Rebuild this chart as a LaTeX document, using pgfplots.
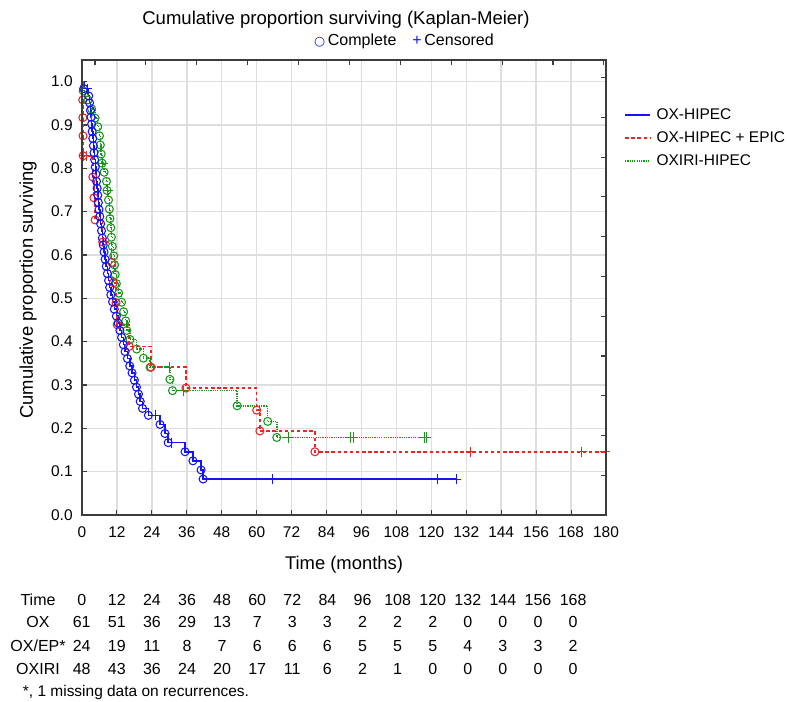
\documentclass[border=0pt]{standalone}
\usepackage{fontspec}
\setmainfont{Liberation Sans}
\newfontfamily\dejavu{DejaVu Sans}
\usepackage{pgfplots}
\pgfplotsset{compat=1.18}
\usepackage{pgfplotstable}

\definecolor{kmblue}{RGB}{20,20,245}
\definecolor{kmred}{RGB}{240,35,35}
\definecolor{kmgreen}{RGB}{25,150,25}
\definecolor{gridgray}{RGB}{222,222,222}
\definecolor{framegray}{RGB}{60,60,60}

% KM curves: t = months, S = proportion, m = s(tart) / e(vent) / c(ensored)
\pgfplotstableread{
t S m
0 1 s
0.6 0.984 e
1.8 0.984 c
2.3 0.967 e
2.6 0.951 e
2.9 0.934 e
3.1 0.918 e
3.3 0.902 e
3.49 0.885 e
3.70 0.869 e
3.92 0.852 e
4.13 0.836 e
4.34 0.820 e
4.56 0.803 e
4.77 0.787 e
4.98 0.770 e
5.20 0.754 e
5.41 0.738 e
5.62 0.721 e
5.84 0.705 e
6.11 0.689 e
6.40 0.672 e
6.70 0.656 e
6.99 0.639 e
7.29 0.623 e
7.58 0.607 e
7.94 0.590 e
8.33 0.574 e
8.72 0.557 e
9.12 0.541 e
9.51 0.525 e
9.90 0.508 e
10.5 0.492 e
11.1 0.475 e
11.8 0.459 e
12.4 0.443 e
13.0 0.426 e
13.6 0.410 e
14.2 0.393 e
14.8 0.377 e
15.6 0.361 e
16.4 0.344 e
17.2 0.328 e
18.0 0.311 e
18.7 0.295 e
19.4 0.279 e
20.0 0.262 e
20.8 0.246 e
22.8 0.230 e
25.4 0.230 c
26.8 0.209 e
28.5 0.188 e
29.6 0.167 e
30.9 0.167 c
35.4 0.146 e
38.1 0.125 e
40.9 0.104 e
41.6 0.083 e
65.3 0.083 c
122.0 0.083 c
128.5 0.083 c
}\oxdata

\pgfplotstableread{
t S m
0 1 s
0.25 0.958 e
0.30 0.917 e
0.35 0.875 e
0.40 0.829 e
0.6 0.829 c
1.6 0.829 c
3.7 0.780 e
4.1 0.732 e
4.5 0.681 e
7.1 0.630 e
10.2 0.583 e
10.8 0.536 e
11.7 0.490 e
12.1 0.439 e
16.2 0.389 e
23.7 0.341 e
35.7 0.293 e
60.0 0.242 e
61.1 0.194 e
80.0 0.146 e
133.6 0.146 c
171.7 0.146 c
179.8 0.146 c
}\epdata

\pgfplotstableread{
t S m
0 1 s
0.4 0.979 e
2.0 0.958 e
3.3 0.937 e
4.5 0.916 e
5.4 0.896 e
6.0 0.875 e
6.3 0.854 e
6.6 0.833 e
6.9 0.812 e
7.1 0.812 c
7.6 0.791 e
8.4 0.770 e
8.6 0.749 e
8.8 0.749 c
9.1 0.727 e
9.4 0.706 e
9.6 0.684 e
9.9 0.663 e
10.1 0.641 e
10.4 0.620 e
10.9 0.598 e
11.2 0.577 e
11.4 0.555 e
11.8 0.534 e
12.6 0.512 e
13.6 0.491 e
14.3 0.469 e
15.0 0.448 e
15.4 0.426 e
16.5 0.405 e
18.8 0.383 e
21.1 0.362 e
23.4 0.341 e
30.0 0.341 c
30.2 0.313 e
31.1 0.287 e
34.8 0.287 c
53.3 0.252 e
63.8 0.216 e
66.9 0.179 e
70.9 0.179 c
92.3 0.179 c
93.2 0.179 c
117.6 0.179 c
118.2 0.179 c
}\oxiridata

\pgfplotsset{
  km marks/.style={forget plot, only marks, scatter, scatter src=explicit symbolic,
    restrict x to domain=0.01:200, mark size=3pt,
    mark options={solid, line width=0.8pt},
    scatter/classes={e={mark=o, #1}, c={mark=+, mark size=3.8pt, #1}, s={mark=o, #1}}},
  km line/.style={forget plot, const plot, no marks, line width=1.15pt, #1},
}

\begin{document}
\begin{tikzpicture}
\path[use as bounding box] (0,0) rectangle (591pt,525.75pt);

\begin{axis}[
  at={(61.5pt,139.5pt)}, anchor=south west,
  scale only axis, width=393pt, height=341.25pt,
  xmin=0, xmax=180, ymin=0, ymax=1.05,
  xtick={0,12,...,180}, ytick={0,0.1,...,1.0},
  xtick pos=left, ytick pos=left, tick align=inside,
  major tick length=4pt,
  grid=major, grid style={gridgray, line width=1.1pt},
  axis line style={framegray, line width=1pt},
  tick style={framegray, line width=0.8pt},
  ticklabel style={font=\fontsize{11.6}{13}\selectfont},
  x tick label style={yshift=-5.5pt},
  /pgf/number format/assume math mode=true,
  xlabel={Time (months)}, ylabel={Cumulative proportion surviving},
  label style={font=\fontsize{13.8}{16}\selectfont},
  xlabel style={at={(axis description cs:0.5,-0.11)}, anchor=center},
  ylabel style={at={(axis description cs:-0.103,0.495)}, anchor=center},
  legend style={at={(1.027,0.905)}, anchor=north west, draw=white, fill=white,
    font=\fontsize{11.6}{13}\selectfont, row sep=3.5pt, column sep=2.5pt},
  legend cell align=left,
  legend image code/.code={\draw[#1] (0pt,0pt) -- (18.5pt,0pt);},
  y tick label style={xshift=-3.5pt, /pgf/number format/.cd, fixed, fixed zerofill, precision=1},
]
\addlegendimage{draw=kmblue, line width=1.15pt}
\addlegendentry{OX-HIPEC}
\addlegendimage{draw=kmred, line width=1.1pt, dash pattern=on 2.6pt off 2pt}
\addlegendentry{OX-HIPEC + EPIC}
\addlegendimage{draw=kmgreen, line width=1.1pt, dash pattern=on 0.9pt off 0.8pt}
\addlegendentry{OXIRI-HIPEC}

\addplot[km line={kmblue}] table[x=t, y=S] {\oxdata};
\addplot[km line={kmred, dash pattern=on 2.6pt off 2pt}] table[x=t, y=S] {\epdata};
\addplot[km line={kmgreen, dash pattern=on 0.9pt off 0.8pt}] table[x=t, y=S] {\oxiridata};

\addplot[km marks=kmgreen] table[x=t, y=S, meta=m] {\oxiridata};
\addplot[km marks=kmred] table[x=t, y=S, meta=m] {\epdata};
\addplot[km marks=kmblue] table[x=t, y=S, meta=m] {\oxdata};
\end{axis}

% top and right ticks (own spacing, as in the source)
\begin{axis}[
  at={(61.5pt,139.5pt)}, anchor=south west,
  scale only axis, width=393pt, height=341.25pt,
  xmin=0, xmax=180, ymin=0, ymax=1.05,
  xtick={4.47,21.95,39.43,56.91,74.39,91.87,109.35,126.83,144.31,161.79,179.27},
  ytick={0.0917,0.1834,0.275,0.367,0.458,0.55,0.642,0.734,0.825,0.917,1.009},
  xtick pos=right, ytick pos=right, tick align=inside,
  major tick length=4pt,
  xticklabels={}, yticklabels={},
  axis line style={framegray, line width=1pt},
  tick style={framegray, line width=0.8pt},
]
\end{axis}

\node[font=\fontsize{13.9}{16}\selectfont] at (252pt,510.75pt) {Cumulative proportion surviving (Kaplan-Meier)};
\node[font=\fontsize{12}{14}\selectfont] at (303pt,495pt)
  {\textcolor{kmblue}{\dejavu\fontsize{9.5}{10}\selectfont ○}\,Complete\quad\textcolor{kmblue}{+}\,Censored};

% numbers at risk
\def\tabfont{\fontsize{12}{14}\selectfont}
\node[font=\tabfont] at (28.5pt,75.75pt) {Time};
\node[font=\tabfont] at (28.5pt,59.5pt) {OX};
\node[font=\tabfont] at (28.5pt,41.25pt) {OX/EP*};
\node[font=\tabfont] at (28.5pt,24pt) {OXIRI};
\foreach \v [count=\i from 0] in {0,12,24,36,48,60,72,84,96,108,120,132,144,156,168}
  \node[font=\tabfont] at ({0.75pt*(81.7+35.1*\i)},75.75pt) {\v};
\foreach \v [count=\i from 0] in {61,51,36,29,13,7,3,3,2,2,2,0,0,0,0}
  \node[font=\tabfont] at ({0.75pt*(81.7+35.1*\i)},59.5pt) {\v};
\foreach \v [count=\i from 0] in {24,19,11,8,7,6,6,6,5,5,5,4,3,3,2}
  \node[font=\tabfont] at ({0.75pt*(81.7+35.1*\i)},41.25pt) {\v};
\foreach \v [count=\i from 0] in {48,43,36,24,20,17,11,6,2,1,0,0,0,0,0}
  \node[font=\tabfont] at ({0.75pt*(81.7+35.1*\i)},24pt) {\v};
\node[font=\fontsize{11.6}{13}\selectfont, anchor=west, inner sep=0pt] at (17pt,6.75pt) {*, 1 missing data on recurrences.};
\end{tikzpicture}
\end{document}
